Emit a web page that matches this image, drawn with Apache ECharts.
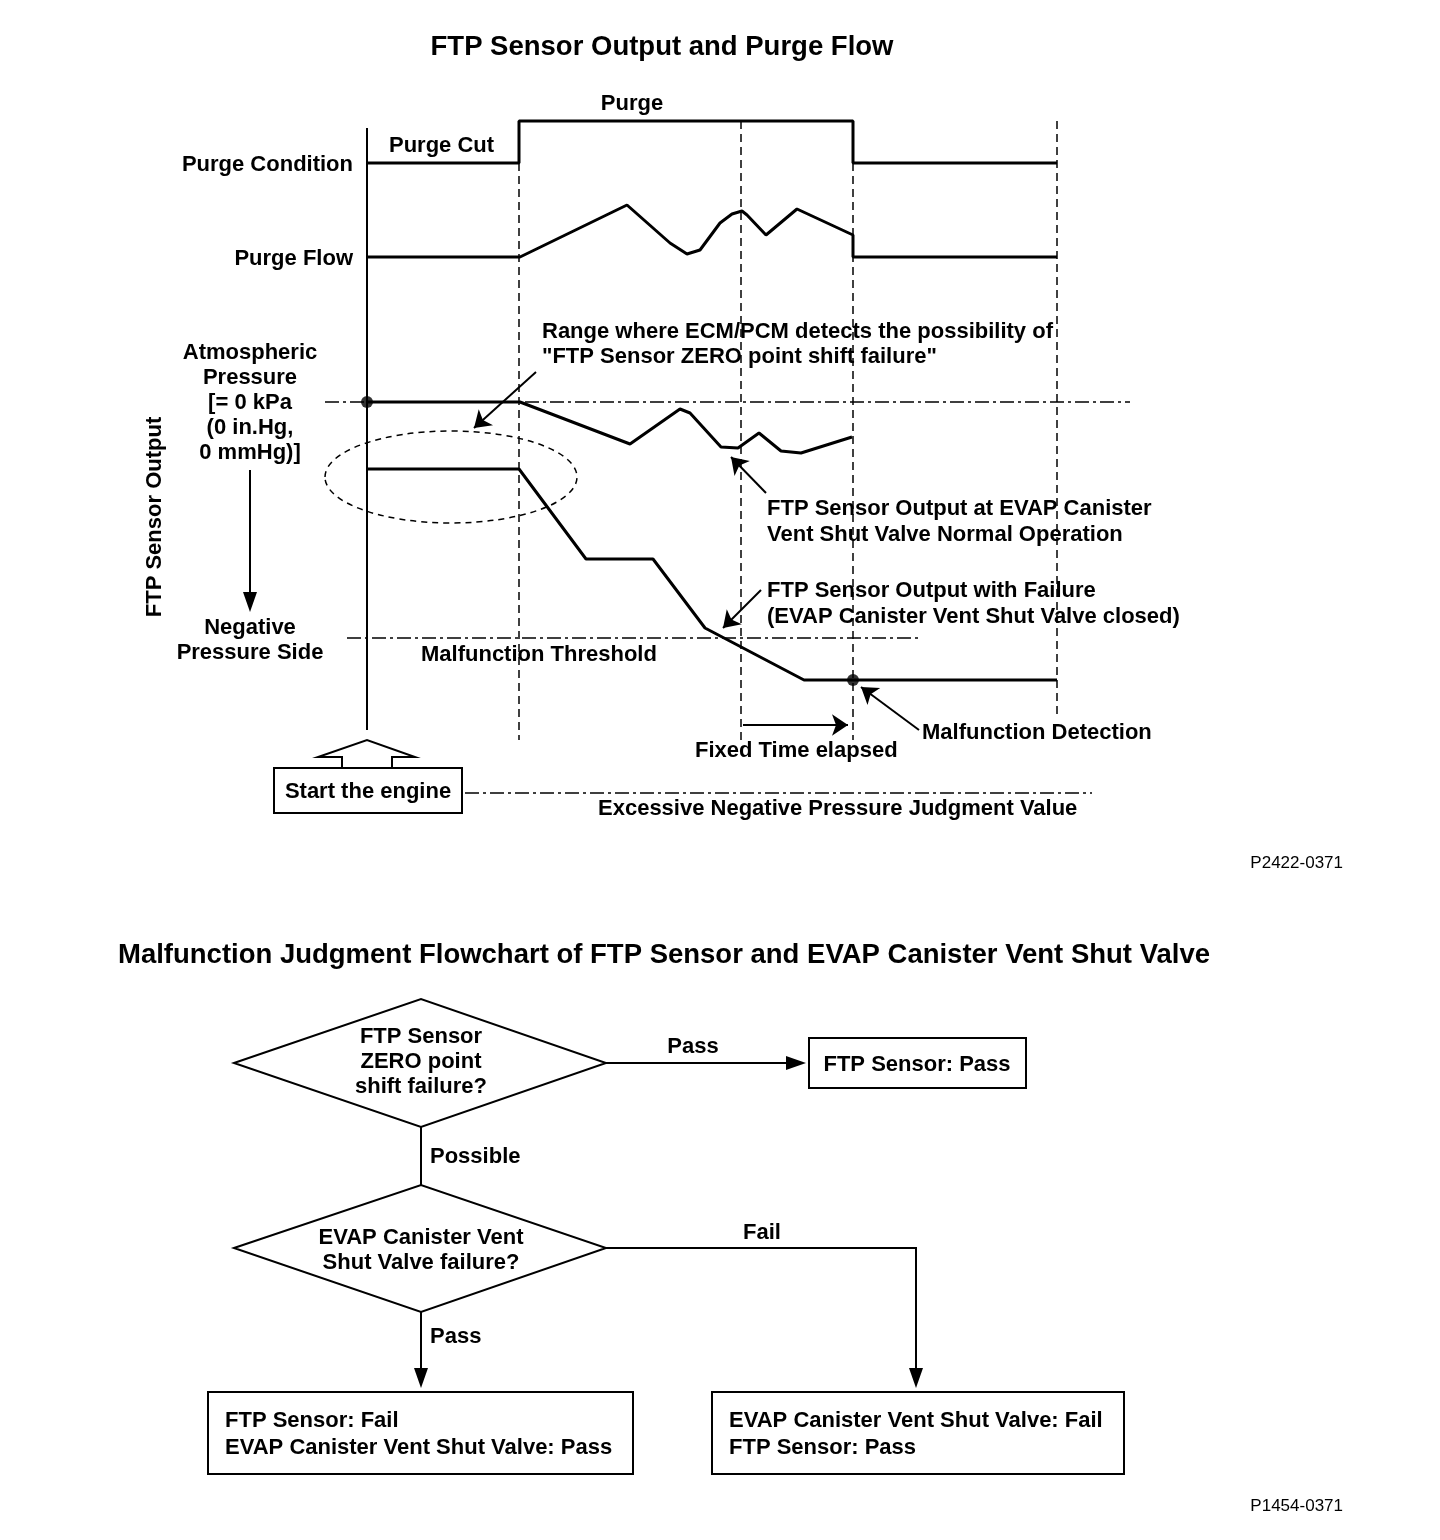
<!DOCTYPE html>
<html>
<head>
<meta charset="utf-8">
<script src="https://cdn.jsdelivr.net/npm/echarts@6/dist/echarts.min.js"></script>
<style>
  html, body { margin: 0; background: #fff; }
  #main { width: 1440px; height: 1540px; }
</style>
</head>
<body>
<div id="main"></div>
<script>
// timing chart data: t = time after engine start, lvl = signal level (grows downward)
const purgeCondition = [[0, 16.3], [15.2, 16.3], [15.2, 12.1], [48.6, 12.1], [48.6, 16.3], [69, 16.3]];
const purgeFlow = [[0, 25.7], [15.3, 25.7], [26.0, 20.5], [30.3, 24.3], [32.0, 25.4], [33.3, 25.0],
  [35.3, 22.3], [36.5, 21.4], [37.5, 21.1], [38.0, 21.5], [39.9, 23.5], [43.0, 20.9], [48.6, 23.5],
  [48.6, 25.7], [69, 25.7]];
const normalOutput = [[0, 40.2], [15.3, 40.2], [26.3, 44.4], [31.3, 40.9], [32.3, 41.3], [35.4, 44.7],
  [37.1, 44.8], [39.2, 43.3], [41.4, 45.1], [43.4, 45.3], [48.5, 43.7]];
const failureOutput = [[0, 46.9], [15.2, 46.9], [21.9, 55.9], [28.6, 55.9], [33.8, 62.8], [43.7, 68.0], [69, 68.0]];
const markerDots = [[0, 40.2], [48.6, 68.0]];
// [t, from, to]
const timeGuides = [[15.2, 16.3, 74.0], [37.4, 12.1, 74.0], [48.6, 16.3, 74.0], [69, 12.1, 71.7]];
// [lvl, tFrom, tTo]
const levelGuides = [[40.2, -4.2, 76.3], [63.8, -2.0, 55.2], [79.3, 9.8, 72.5]];
const arrows = [
  [[16.9, 37.2], [10.7, 42.8]],
  [[39.9, 49.3], [36.4, 45.7]],
  [[39.4, 59.0], [35.6, 62.8]],
  [[55.2, 73.0], [49.4, 68.7]],
  [[37.6, 72.5], [48.1, 72.5]]
];
const zeroShiftRange = { center: [8.4, 47.7], rx: 12.6, ry: 4.6 };

const FONT = '"Liberation Sans", Arial, sans-serif';
const chart = echarts.init(document.getElementById('main'));

function seg(data, lineStyle) {
  return { type: 'line', data: data, symbol: 'none', silent: true, animation: false,
    lineStyle: Object.assign({ color: '#000' }, lineStyle) };
}

const series = [
  seg([[0, 12.8], [0, 73.0]], { width: 2 }),
  ...timeGuides.map(g => seg([[g[0], g[1]], [g[0], g[2]]], { width: 1.5, type: [8, 5] })),
  ...levelGuides.map(g => seg([[g[1], g[0]], [g[2], g[0]]], { width: 1.5, type: [14, 4, 3, 4] })),
  seg(purgeCondition, { width: 3 }),
  seg(purgeFlow, { width: 3 }),
  seg(normalOutput, { width: 3 }),
  seg(failureOutput, { width: 3 }),
  {
    type: 'scatter', data: markerDots, symbolSize: 12, itemStyle: { color: '#000' },
    silent: true, animation: false, z: 5
  },
  {
    type: 'lines', coordinateSystem: 'cartesian2d', data: arrows.map(a => ({ coords: a })),
    symbol: ['none', 'arrow'], symbolSize: 16, silent: true, animation: false,
    lineStyle: { color: '#000', width: 2, opacity: 1, curveness: 0 }
  }
];

chart.setOption({
  backgroundColor: '#fff',
  animation: false,
  grid: { left: 297, top: 100, width: 850, height: 720 },
  xAxis: { type: 'value', min: -7, max: 78, show: false },
  yAxis: { type: 'value', min: 10, max: 82, inverse: true, show: false },
  series: series
});

function txt(x, y, s, o) {
  o = o || {};
  return s.split('\n').map((line, i) => ({
    type: 'text', x: x, y: y + i * (o.lh || 25), rotation: o.rot || 0,
    style: {
      text: line, fill: '#000',
      font: (o.weight || 'bold') + ' ' + (o.size || 22) + 'px ' + FONT,
      textAlign: o.align || 'left', textVerticalAlign: 'middle'
    }
  }));
}
const stroke = { stroke: '#000', lineWidth: 2, fill: null };
function poly(points, closed) {
  return { type: closed ? 'polygon' : 'polyline', shape: { points: points }, style: Object.assign({}, stroke) };
}
function head(x, y, dir) {
  const p = dir === 'right' ? [[x, y], [x - 20, y - 7], [x - 20, y + 7]] : [[x, y], [x - 7, y - 20], [x + 7, y - 20]];
  return { type: 'polygon', shape: { points: p }, style: { fill: '#000' } };
}

const c = chart.convertToPixel({ gridIndex: 0 }, zeroShiftRange.center);
const e2 = chart.convertToPixel({ gridIndex: 0 },
  [zeroShiftRange.center[0] + zeroShiftRange.rx, zeroShiftRange.center[1] + zeroShiftRange.ry]);

const graphic = [
  // ---- timing chart
  ...txt(662, 47, 'FTP Sensor Output and Purge Flow', { size: 27.5, align: 'center' }),
  ...txt(632, 104, 'Purge', { align: 'center' }),
  ...txt(389, 146, 'Purge Cut'),
  ...txt(353, 165, 'Purge Condition', { align: 'right' }),
  ...txt(353, 259, 'Purge Flow', { align: 'right' }),
  ...txt(542, 332, 'Range where ECM/PCM detects the possibility of\n"FTP Sensor ZERO point shift failure"'),
  ...txt(250, 353, 'Atmospheric\nPressure\n[= 0 kPa\n(0 in.Hg,\n0 mmHg)]', { align: 'center' }),
  ...txt(155, 517, 'FTP Sensor Output', { align: 'center', rot: Math.PI / 2 }),
  ...txt(250, 628, 'Negative\nPressure Side', { align: 'center' }),
  ...txt(421, 655, 'Malfunction Threshold'),
  ...txt(767, 509, 'FTP Sensor Output at EVAP Canister\nVent Shut Valve Normal Operation', { lh: 26 }),
  ...txt(767, 591, 'FTP Sensor Output with Failure\n(EVAP Canister Vent Shut Valve closed)', { lh: 26 }),
  ...txt(922, 733, 'Malfunction Detection'),
  ...txt(695, 751, 'Fixed Time elapsed'),
  ...txt(368, 792, 'Start the engine', { align: 'center' }),
  ...txt(598, 809, 'Excessive Negative Pressure Judgment Value'),
  ...txt(1343, 863, 'P2422-0371', { align: 'right', size: 17, weight: 'normal' }),
  { type: 'line', shape: { x1: 250, y1: 470, x2: 250, y2: 595 }, style: { stroke: '#000', lineWidth: 2 } },
  head(250, 612, 'down'),
  {
    type: 'ellipse', shape: { cx: c[0], cy: c[1], rx: e2[0] - c[0], ry: e2[1] - c[1] },
    style: { stroke: '#000', lineWidth: 1.5, lineDash: [6, 5], fill: null }
  },
  poly([[342, 768], [342, 757], [318, 757], [367, 740], [415, 757], [392, 757], [392, 768]], false),
  { type: 'rect', shape: { x: 274, y: 768, width: 188, height: 45 }, style: Object.assign({}, stroke) },

  // ---- flowchart
  ...txt(664, 955, 'Malfunction Judgment Flowchart of FTP Sensor and EVAP Canister Vent Shut Valve', { size: 27.5, align: 'center' }),
  poly([[234, 1063], [421, 999], [606, 1063], [421, 1127]], true),
  ...txt(421, 1037, 'FTP Sensor\nZERO point\nshift failure?', { align: 'center' }),
  { type: 'line', shape: { x1: 606, y1: 1063, x2: 790, y2: 1063 }, style: { stroke: '#000', lineWidth: 2 } },
  head(806, 1063, 'right'),
  ...txt(693, 1047, 'Pass', { align: 'center' }),
  { type: 'rect', shape: { x: 809, y: 1038, width: 217, height: 50 }, style: Object.assign({}, stroke) },
  ...txt(917, 1065, 'FTP Sensor: Pass', { align: 'center' }),
  { type: 'line', shape: { x1: 421, y1: 1127, x2: 421, y2: 1185 }, style: { stroke: '#000', lineWidth: 2 } },
  ...txt(430, 1157, 'Possible'),
  poly([[234, 1248], [421, 1185], [606, 1248], [421, 1312]], true),
  ...txt(421, 1238, 'EVAP Canister Vent\nShut Valve failure?', { align: 'center' }),
  poly([[606, 1248], [916, 1248], [916, 1370]], false),
  head(916, 1388, 'down'),
  ...txt(762, 1233, 'Fail', { align: 'center' }),
  { type: 'line', shape: { x1: 421, y1: 1312, x2: 421, y2: 1370 }, style: { stroke: '#000', lineWidth: 2 } },
  head(421, 1388, 'down'),
  ...txt(430, 1337, 'Pass'),
  { type: 'rect', shape: { x: 208, y: 1392, width: 425, height: 82 }, style: Object.assign({}, stroke) },
  ...txt(225, 1421, 'FTP Sensor: Fail\nEVAP Canister Vent Shut Valve: Pass', { lh: 27 }),
  { type: 'rect', shape: { x: 712, y: 1392, width: 412, height: 82 }, style: Object.assign({}, stroke) },
  ...txt(729, 1421, 'EVAP Canister Vent Shut Valve: Fail\nFTP Sensor: Pass', { lh: 27 }),
  ...txt(1343, 1506, 'P1454-0371', { align: 'right', size: 17, weight: 'normal' })
];

chart.setOption({ graphic: graphic });
</script>
</body>
</html>
